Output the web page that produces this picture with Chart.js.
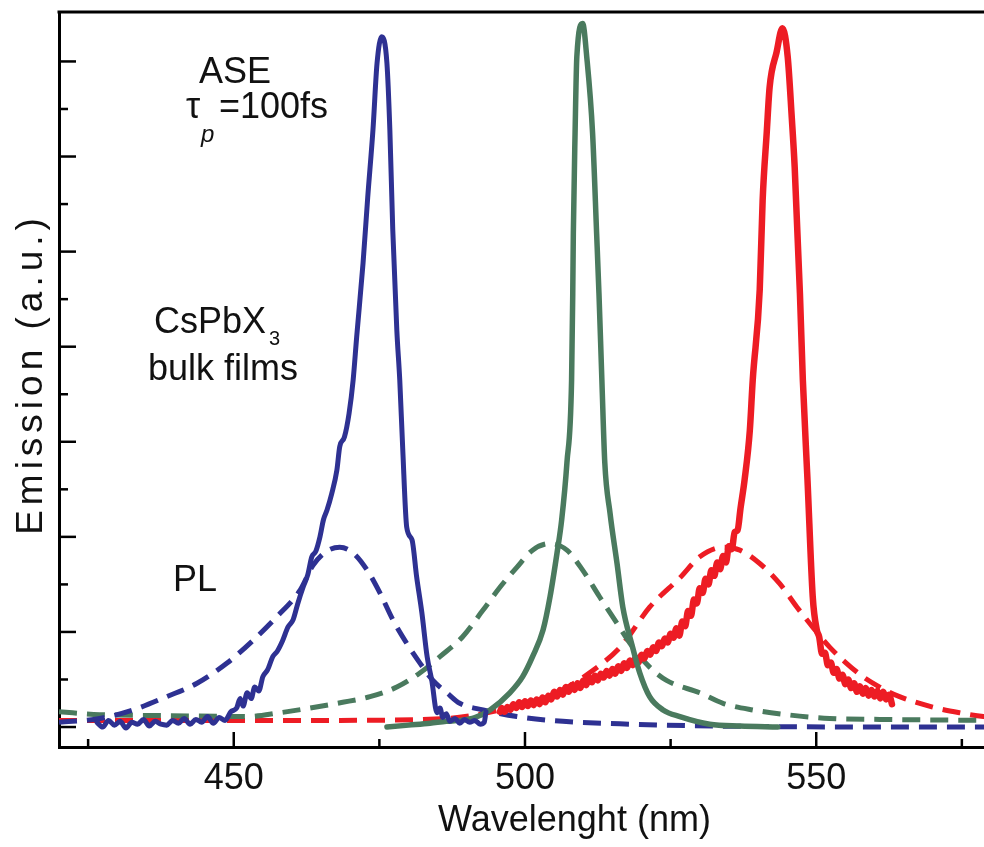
<!DOCTYPE html>
<html>
<head>
<meta charset="utf-8">
<script src="https://cdn.jsdelivr.net/npm/chart.js@4.4.1/dist/chart.umd.min.js"></script>
<style>
  html, body { margin: 0; padding: 0; background: #fff; overflow: hidden; }
  #wrap { position: relative; width: 1092px; height: 847px; }
</style>
</head>
<body>
<div id="wrap"><canvas id="chart"></canvas></div>
<script>
// ── Data (wavelength nm / emission a.u.) ───────
const blueAseX = [426.5,427.5,428.5,429.5,430.5,431.5,432.5,433.5,434.5,435.5,436.5,437.5,438.5,439.5,440.5,441.5,442.5,443.5,444.5,445.5,446.5,447.5,448.5,449.5,
  450.5,451.1,451.6,452.3,453.0,453.6,454.3,455.0,455.8,456.7,457.5,458.4,459.3,460.2,461.0,461.9,462.7,463.4,464.1,464.8,465.4,466.0,466.8,467.7,468.2,469.0,469.8,
  470.5,471.1,472.2,473.0,473.9,474.6,475.4,476.3,476.8,477.3,478.0,478.5,479.0,479.7,480.6,481.4,482.3,483.2,484.0,484.9,485.4,485.9,486.5,487.1,488.0,488.8,
  489.6,490.5,491.4,492.3,493.0,493.3];
const blueAseY = [0.05,0.00,0.07,0.02,0.06,-0.01,0.05,0.03,0.08,0.01,0.06,0.03,0.02,0.07,0.04,0.09,0.03,0.08,0.05,0.11,0.04,0.10,0.07,0.16,
  0.20,0.30,0.22,0.36,0.30,0.42,0.38,0.53,0.60,0.74,0.80,0.91,1.05,1.13,1.30,1.47,1.60,1.79,1.85,2.00,2.18,2.28,2.45,2.70,2.95,3.05,3.30,
  3.65,4.10,4.88,5.57,6.28,6.98,7.26,6.98,6.28,5.23,4.17,3.65,2.94,2.10,1.97,1.58,1.20,0.74,0.49,0.15,0.20,0.10,0.14,0.06,0.09,0.04,
  0.08,0.05,0.07,0.03,0.05,0.16];

const greenAseX = [476.3,480.0,483.7,486.5,488.8,491.4,494.0,497.4,499.6,501.3,503.1,504.3,505.5,506.3,507.2,508.0,508.2,508.3,508.6,508.9,509.9,
  510.6,511.6,512.3,512.7,513.2,513.7,514.6,515.8,516.8,518.3,519.7,521.4,523.7,526.6,531.7,536.9,543.4];
const greenAseY = [0.00,0.02,0.04,0.06,0.07,0.10,0.18,0.36,0.53,0.74,1.02,1.37,1.83,2.18,2.78,3.65,4.56,5.19,6.25,7.05,7.40,
  7.05,6.25,5.19,4.56,3.65,2.78,2.25,1.72,1.26,0.88,0.57,0.32,0.18,0.11,0.03,0.01,0.00];

const redAseX = [495.7,496,496.5,497,497.5,498,498.5,499,499.5,500,500.5,501,501.5,502,502.5,503,503.5,504,504.5,505,505.5,506,506.5,507,507.5,
  508,508.5,509,509.5,510,510.5,511,511.5,512,512.5,513,513.5,514,514.5,515,515.5,516,516.5,517,517.5,518,518.5,519,519.5,520,520.5,
  521,521.5,522,522.5,523,523.5,524,524.5,525,525.5,526,526.5,527,527.5,528,528.5,529,529.5,530,530.5,531,531.5,532,532.5,533,533.5,
  534,534.5,535,535.5,536,536.5,537,537.7,538.6,539.1,540.3,540.8,541.5,542.0,543.2,544.2,545.1,545.8,546.3,547.2,547.7,548.5,549.4,
  550.1,550.5,551,551.5,552,552.5,553,553.5,554,554.5,555,555.5,556,556.5,557,557.5,558,558.5,559,559.5,560,560.5,561,561.5,562,562.5,563];
const redAseY = [0.16,0.20,0.16,0.21,0.18,0.24,0.20,0.26,0.21,0.27,0.22,0.28,0.23,0.29,0.24,0.31,0.26,0.33,0.29,0.37,0.32,0.39,0.34,0.42,0.37,
  0.44,0.39,0.46,0.41,0.49,0.44,0.52,0.47,0.54,0.49,0.56,0.52,0.59,0.54,0.61,0.56,0.64,0.59,0.67,0.62,0.70,0.65,0.73,0.68,0.76,0.72,
  0.80,0.76,0.84,0.80,0.89,0.85,0.93,0.89,0.98,0.94,1.04,0.96,1.11,1.06,1.22,1.17,1.34,1.30,1.46,1.41,1.56,1.50,1.65,1.59,1.73,1.66,
  1.80,1.73,1.90,1.87,2.05,2.07,2.30,2.60,3.12,3.65,4.60,5.54,6.25,6.73,7.10,7.35,7.05,6.41,5.89,4.56,3.65,2.60,1.37,
  1.02,0.95,0.77,0.78,0.65,0.68,0.57,0.61,0.51,0.55,0.45,0.50,0.41,0.46,0.37,0.43,0.35,0.41,0.33,0.39,0.32,0.38,0.30,0.37,0.29,0.34,0.24];

const bluePlX = [420,427.0,432.7,438.5,443.7,448.8,453.3,457.4,461.4,463.6,466.0,468.2,470.5,472.9,475.1,477.3,479.7,482.0,484.2,486.6,488.8,
  492.8,498.6,506.5,518.0,533.4,560,597];
const bluePlY = [0.05,0.09,0.18,0.32,0.46,0.67,0.91,1.16,1.44,1.70,1.85,1.89,1.83,1.65,1.41,1.13,0.88,0.67,0.49,0.36,0.25,
  0.18,0.11,0.06,0.03,0.01,0.00,0.00];

const greenPlX = [420,427.0,439.0,452.3,457.9,463.1,468.7,473.4,478.0,482.0,485.4,489.3,492.8,495.7,498.6,501.3,504.3,507.2,509.9,512.8,515.8,
  518.5,521.4,524.3,530.0,534.0,539.1,544.9,552.3,560.9,578.7,597];
const greenPlY = [0.16,0.13,0.12,0.11,0.15,0.20,0.26,0.32,0.42,0.57,0.74,0.95,1.23,1.47,1.68,1.86,1.93,1.86,1.65,1.37,1.09,
  0.84,0.63,0.49,0.36,0.25,0.18,0.13,0.09,0.08,0.07,0.06];

const redPlX = [420,444.2,468.2,486.6,493.5,499.6,504.3,506.5,511.1,516.5,521.4,526.6,530.0,534.0,536.9,540.3,543.7,546.7,549.4,552.3,555.2,
  558.0,560.9,564.3,570.0,574.6,578.7,597];
const redPlY = [0.07,0.07,0.07,0.09,0.15,0.24,0.31,0.39,0.57,0.85,1.26,1.57,1.79,1.89,1.86,1.72,1.51,1.26,1.05,0.84,0.67,
  0.53,0.42,0.32,0.21,0.15,0.11,0.05];

// ── Axis ticks ─────────────────────────────────
const xTicks  = [425, 450, 475, 500, 525, 550, 575];
const xLabels = [450, 500, 550];
const yTicks  = [0, 0.5, 1, 1.5, 2, 2.5, 3, 3.5, 4, 4.5, 5, 5.5, 6, 6.5, 7];

const BLUE  = '#2e3192';
const GREEN = '#4a7a5e';
const RED   = '#ed1c24';
const FONT  = '"Liberation Sans", Arial, sans-serif';

function pts(xs, ys) { return xs.map((x, i) => ({ x, y: ys[i] })); }

function solid(data, color, w) {
  return { data, borderColor: color, borderWidth: w, pointRadius: 0,
           cubicInterpolationMode: 'monotone',
           borderJoinStyle: 'round', borderCapStyle: 'round' };
}
function dashed(data, color) {
  return { data, borderColor: color, borderWidth: 5, pointRadius: 0,
           cubicInterpolationMode: 'monotone', borderDash: [18, 10] };
}

// ── Frame, inward ticks and annotations ────────
const framePlugin = {
  id: 'frame',
  beforeDatasetsDraw(chart) {
    const { ctx, chartArea: a, scales: { x, y } } = chart;
    ctx.save();
    ctx.strokeStyle = '#000';
    ctx.lineWidth = 2.5;
    xTicks.forEach(v => {
      const px = x.getPixelForValue(v);
      const len = xLabels.includes(v) ? 15 : 8;
      ctx.beginPath(); ctx.moveTo(px, a.bottom); ctx.lineTo(px, a.bottom - len); ctx.stroke();
    });
    yTicks.forEach(v => {
      const py = y.getPixelForValue(v);
      const len = Number.isInteger(v) ? 17 : 9;
      ctx.beginPath(); ctx.moveTo(a.left, py); ctx.lineTo(a.left + len, py); ctx.stroke();
    });
    ctx.lineWidth = 3;
    ctx.beginPath(); ctx.moveTo(a.left - 1.5, a.top); ctx.lineTo(a.right, a.top); ctx.stroke();
    ctx.restore();
  },
  afterDraw(chart) {
    const ctx = chart.ctx;
    ctx.save();
    ctx.fillStyle = '#111';
    ctx.textBaseline = 'alphabetic';
    ctx.textAlign = 'left';
    ctx.font = '36px ' + FONT;
    ctx.fillText('ASE', 199, 83);
    ctx.fillText('\u03C4', 186, 118);
    ctx.fillText('=100fs', 219, 118);
    ctx.fillText('CsPbX', 154, 333);
    ctx.fillText('bulk films', 148, 380);
    ctx.fillText('PL', 173, 591);
    ctx.font = 'italic 24px ' + FONT;
    ctx.fillText('p', 201, 142);
    ctx.font = '20px ' + FONT;
    ctx.fillText('3', 269, 345);

    // y title
    ctx.translate(42, 374);
    ctx.rotate(-Math.PI / 2);
    ctx.font = '37px ' + FONT;
    ctx.letterSpacing = '5px';
    ctx.textAlign = 'center';
    ctx.fillText('Emission (a.u.)', 0, 0);
    ctx.restore();
  }
};

new Chart(document.getElementById('chart'), {
  type: 'line',
  data: {
    datasets: [
      solid(pts(blueAseX, blueAseY), BLUE, 5),
      solid(pts(greenAseX, greenAseY), GREEN, 5.5),
      solid(pts(redAseX, redAseY), RED, 6.5),
      dashed(pts(bluePlX, bluePlY), BLUE),
      dashed(pts(greenPlX, greenPlY), GREEN),
      dashed(pts(redPlX, redPlY), RED)
    ]
  },
  options: {
    responsive: true,
    maintainAspectRatio: false,
    animation: false,
    layout: { padding: { top: 12, right: 2, left: 0, bottom: 0 } },
    plugins: { legend: { display: false }, tooltip: { enabled: false } },
    scales: {
      x: {
        type: 'linear', min: 420, max: 597,
        afterBuildTicks: s => { s.ticks = xTicks.map(v => ({ value: v })); },
        afterFit: s => { s.height = 100; },
        grid: { display: false, drawTicks: false },
        border: { color: '#000', width: 3 },
        ticks: {
          autoSkip: false, maxRotation: 0, padding: 10, color: '#111',
          font: { family: FONT, size: 36 },
          callback: v => xLabels.includes(v) ? String(v) : ''
        },
        title: {
          display: true, text: 'Wavelenght (nm)', color: '#111',
          font: { family: FONT, size: 36 }, padding: { top: 0, bottom: 4 }
        }
      },
      y: {
        type: 'linear', min: -0.21, max: 7.52,
        afterBuildTicks: s => { s.ticks = yTicks.map(v => ({ value: v })); },
        afterFit: s => { s.width = 59; },
        grid: { display: false, drawTicks: false },
        border: { color: '#000', width: 3 },
        ticks: { display: false }
      }
    }
  },
  plugins: [framePlugin]
});
</script>
</body>
</html>
